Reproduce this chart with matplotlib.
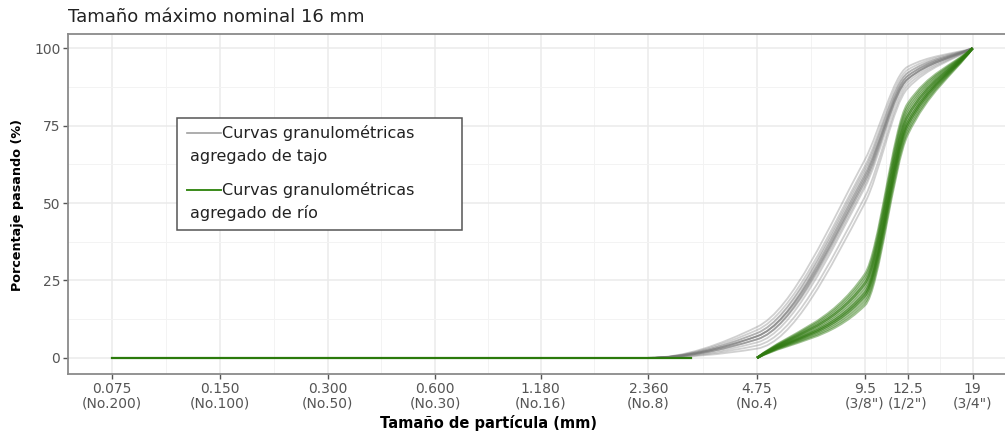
import numpy as np
import matplotlib.pyplot as plt
from matplotlib.path import Path
from matplotlib.patches import PathPatch, Rectangle
from matplotlib.lines import Line2D
from matplotlib.ticker import FixedLocator, NullFormatter

# sieve sizes (mm) and their tick labels
sieve_mm = [0.075, 0.150, 0.300, 0.600, 1.180, 2.360, 4.75, 9.5, 12.5, 19]
sieve_labels = ["0.075\n(No.200)", "0.150\n(No.100)", "0.300\n(No.50)", "0.600\n(No.30)",
                "1.180\n(No.16)", "2.360\n(No.8)", "4.75\n(No.4)", "9.5\n(3/8\")",
                "12.5\n(1/2\")", "19\n(3/4\")"]

# crushed (tajo) aggregate: % passing per sieve
tajo_x = [0.075, 0.150, 0.300, 0.600, 1.180, 2.360, 4.75, 9.5, 12.5, 19]
tajo_curves = [
    [0, 0, 0, 0, 0, 0, 6, 57, 90, 100],
    [0, 0, 0, 0, 0, 0, 7, 59, 91, 100],
    [0, 0, 0, 0, 0, 0, 6, 56, 90, 100],
    [0, 0, 0, 0, 0, 0, 8, 61, 92, 100],
    [0, 0, 0, 0, 0, 0, 4, 52, 88, 100],
    [0, 0, 0, 0, 0, 0, 9, 62, 93, 100],
    [0, 0, 0, 0, 0, 0, 7, 58, 91, 100],
    [0, 0, 0, 0, 0, 0, 7, 57, 90, 100],
    [0, 0, 0, 0, 0, 0, 3, 50, 87, 100],
    [0, 0, 0, 0, 0, 0, 5, 55, 89, 100],
    [0, 0, 0, 0, 0, 0, 8, 60, 92, 100],
    [0, 0, 0, 0, 0, 0, 10, 64, 94, 100],
    [0, 0, 0, 0, 0, 0, 6, 58, 91, 100],
    [0, 0, 0, 0, 0, 0, 7, 59, 90, 100],
]

# river (río) aggregate: % passing per sieve
rio_x = [4.75, 9.5, 12.5, 19]
rio_curves = [
    [0, 22, 77, 100],
    [0, 20, 75, 100],
    [0, 24, 79, 100],
    [0, 18, 73, 100],
    [0, 26, 81, 100],
    [0, 21, 76, 100],
    [0, 23, 78, 100],
    [0, 19, 74, 100],
    [0, 25, 80, 100],
    [0, 27, 82, 100],
    [0, 17, 72, 100],
    [0, 20, 76, 100],
    [0, 24, 78, 100],
    [0, 21, 75, 100],
]
rio_base_x = [0.075, 3.1]
rio_base_y = [0, 0]


def smooth_path(xs, ys):
    """Monotone cubic (pchip-like) curve through the points, in log-x space, as Bezier path."""
    u = np.log(np.asarray(xs, float))
    y = np.asarray(ys, float)
    h = np.diff(u)
    d = np.diff(y) / h
    n = len(u)
    m = np.zeros(n)
    m[0], m[-1] = d[0], d[-1]
    for k in range(1, n - 1):
        if d[k - 1] * d[k] > 0:
            w1 = 2 * h[k] + h[k - 1]
            w2 = h[k] + 2 * h[k - 1]
            m[k] = (w1 + w2) / (w1 / d[k - 1] + w2 / d[k])
    verts = [(xs[0], y[0])]
    codes = [Path.MOVETO]
    for k in range(n - 1):
        c1 = (np.exp(u[k] + h[k] / 3), y[k] + m[k] * h[k] / 3)
        c2 = (np.exp(u[k + 1] - h[k] / 3), y[k + 1] - m[k + 1] * h[k] / 3)
        verts += [c1, c2, (xs[k + 1], y[k + 1])]
        codes += [Path.CURVE4] * 3
    return Path(verts, codes)


fig = plt.figure(figsize=(10.05, 4.32), dpi=100)
ax = fig.add_axes([68 / 1005, 58 / 432, 937 / 1005, 340 / 432])

for ys in tajo_curves:
    ax.add_patch(PathPatch(smooth_path(tajo_x, ys), fill=False, edgecolor='#7a7a7a',
                           lw=1.3, alpha=0.35, zorder=2))
ax.plot(rio_base_x, rio_base_y, color='#2b7a0b', lw=1.6, zorder=3)
for ys in rio_curves:
    ax.add_patch(PathPatch(smooth_path(rio_x, ys), fill=False, edgecolor='#2f7a10',
                           lw=1.7, alpha=0.45, zorder=3))

ax.set_xscale('log')
ax.set_xlim(0.0565, 23.4)
ax.set_ylim(-5.2, 104.6)
ax.set_xticks(sieve_mm)
ax.set_xticklabels(sieve_labels, linespacing=1.05)
s = np.array(sieve_mm)
ax.xaxis.set_minor_locator(FixedLocator(np.sqrt(s[:-1] * s[1:])))
ax.xaxis.set_minor_formatter(NullFormatter())
ax.set_yticks([0, 25, 50, 75, 100])
ax.yaxis.set_minor_locator(FixedLocator([12.5, 37.5, 62.5, 87.5]))

ax.set_axisbelow(True)
ax.grid(which='major', color='#ebebeb', lw=1.1)
ax.grid(which='minor', color='#f3f3f3', lw=0.7)
ax.tick_params(which='major', direction='out', length=3.5, width=1, color='#555555',
               labelcolor='#555555', labelsize=10, pad=2)
ax.tick_params(which='minor', length=0)
for side in ['top', 'left', 'bottom']:
    ax.spines[side].set_color('#8a8a8a')
    ax.spines[side].set_linewidth(1.3)
ax.spines['right'].set_visible(False)

fig.text(68 / 1005, 1 - 17 / 432, "Tamaño máximo nominal 16 mm", fontsize=13,
         color='#222222', va='center', ha='left')
fig.text(489 / 1005, 1 - 423 / 432, "Tamaño de partícula (mm)", fontsize=10.5,
         fontweight='bold', va='center', ha='center')
fig.text(17 / 1005, 1 - 205 / 432, "Porcentaje pasando (%)", fontsize=9.2,
         fontweight='bold', rotation=90, va='center', ha='center')

# legend box (text wraps under the key line, as in the original)
W, H = 1005, 432
fig.add_artist(Rectangle((177 / W, 1 - 230 / H), 285 / W, 112 / H, transform=fig.transFigure,
                         facecolor='white', edgecolor='#555555', lw=1.1, zorder=5))
fig.add_artist(Line2D([187 / W, 221 / W], [1 - 133 / H] * 2, transform=fig.transFigure,
                      color='#a0a0a0', lw=1.2, zorder=6))
fig.add_artist(Line2D([187 / W, 221 / W], [1 - 190 / H] * 2, transform=fig.transFigure,
                      color='#3a8a1a', lw=1.4, zorder=6))
leg_kw = dict(fontsize=11.5, color='#222222', va='center', ha='left', zorder=7)
fig.text(222 / W, 1 - 133 / H, "Curvas granulométricas", **leg_kw)
fig.text(190 / W, 1 - 156 / H, "agregado de tajo", **leg_kw)
fig.text(222 / W, 1 - 190 / H, "Curvas granulométricas", **leg_kw)
fig.text(190 / W, 1 - 213 / H, "agregado de río", **leg_kw)

fig.savefig("out.png", dpi=100)
